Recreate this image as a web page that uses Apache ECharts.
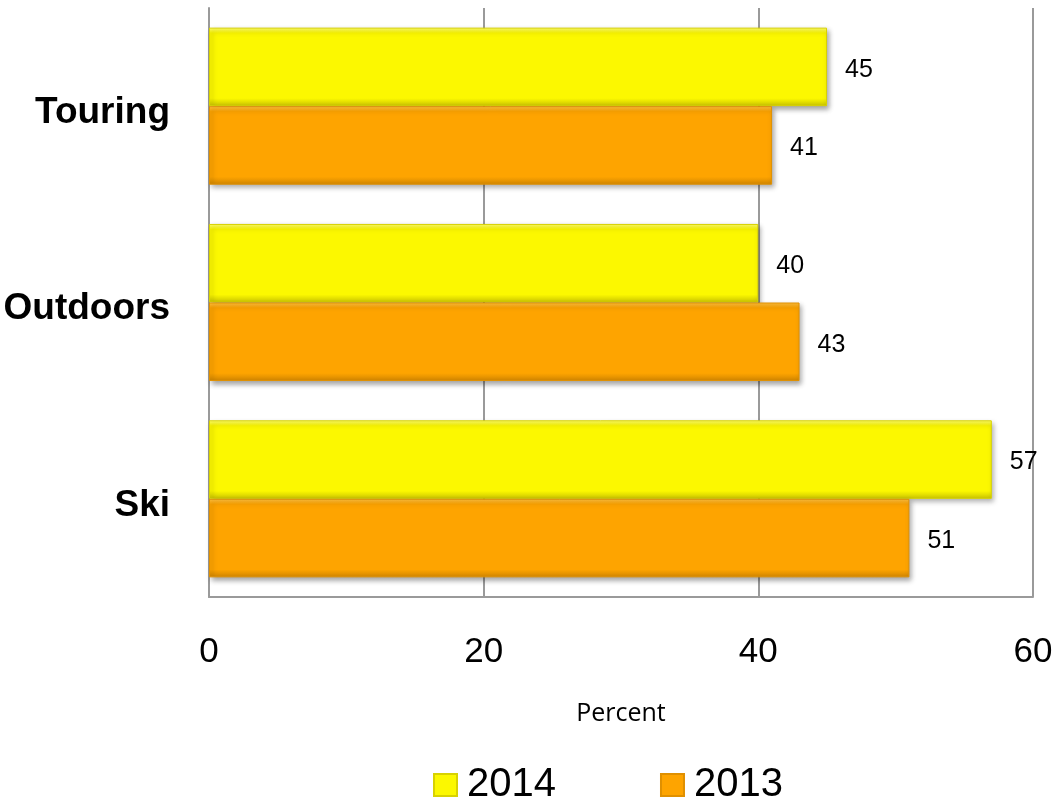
<!DOCTYPE html>
<html>
<head>
<meta charset="utf-8">
<style>
  html, body { margin: 0; padding: 0; background: #fff; }
  #chart { width: 1058px; height: 803px; }
</style>
<script src="https://cdn.jsdelivr.net/npm/echarts@6/dist/echarts.min.js"></script>
</head>
<body>
<div id="chart"></div>
<script>
// Segments shown top to bottom
const categories = ['Touring', 'Outdoors', 'Ski'];
const values2014 = [45, 40, 57];
const values2013 = [41, 43, 51];
const xTicks = [0, 20, 40, 60];

// Bevelled bar fill: light top edge, flat face, darker bottom edge
function bevel(light, face, dark) {
  return {
    type: 'linear', x: 0, y: 0, x2: 0, y2: 1,
    colorStops: [
      { offset: 0, color: light },
      { offset: 0.07, color: face },
      { offset: 0.9, color: face },
      { offset: 1, color: dark }
    ]
  };
}

const fill2014 = bevel('#FFFF70', '#FCF800', '#C9C300');
const fill2013 = bevel('#FFC040', '#FEA400', '#D08500');

const chart = echarts.init(document.getElementById('chart'));

function barSeries(name, data, fill, border) {
  return {
    name: name,
    type: 'bar',
    data: data,
    barGap: '0%',
    barCategoryGap: '20%',
    itemStyle: {
      color: fill,
      borderColor: border,
      borderWidth: 1,
      shadowColor: 'rgba(0,0,0,0.35)',
      shadowBlur: 5,
      shadowOffsetX: 2,
      shadowOffsetY: 3
    },
    label: {
      show: true,
      position: 'right',
      distance: 18,
      offset: [0, 3],
      color: '#000',
      fontFamily: 'Liberation Sans, Arial, sans-serif',
      fontSize: 25
    }
  };
}

chart.setOption({
  animation: false,
  backgroundColor: '#fff',
  grid: {
    left: 209, right: 25, top: 8, bottom: 206,
    containLabel: false,
    outerBoundsMode: 'none'
  },
  legend: {
    top: 765,
    left: 433,
    padding: 0,
    itemWidth: 23,
    itemHeight: 22,
    itemGap: 104,
    icon: 'rect',
    textStyle: {
      color: '#000',
      fontFamily: 'Liberation Sans, Arial, sans-serif',
      fontSize: 40,
      padding: [0, 0, 0, 5]
    },
    data: ['2014', '2013']
  },
  xAxis: {
    type: 'value',
    min: xTicks[0],
    max: xTicks[xTicks.length - 1],
    interval: xTicks[1] - xTicks[0],
    name: 'Percent',
    nameLocation: 'middle',
    nameGap: 104,
    nameTextStyle: {
      color: '#000',
      fontFamily: 'Open Sans, sans-serif',
      fontSize: 25
    },
    axisLine: { show: true, lineStyle: { color: '#9a9a9a', width: 2 } },
    axisTick: { show: false },
    axisLabel: {
      color: '#000',
      fontFamily: 'Liberation Sans, Arial, sans-serif',
      fontSize: 35,
      margin: 38
    },
    splitLine: { show: true, lineStyle: { color: '#9a9a9a', width: 2 } }
  },
  yAxis: {
    type: 'category',
    data: categories,
    inverse: true,
    axisLine: { show: true, lineStyle: { color: '#9a9a9a', width: 2 } },
    axisTick: { show: false },
    axisLabel: {
      margin: 39,
      formatter: '{cat|{value}}',
      rich: {
        cat: {
          color: '#000',
          fontFamily: 'Liberation Sans Narrow, Arial Narrow, Liberation Sans, sans-serif',
          fontWeight: 'bold',
          fontSize: 37,
          padding: [13, 0, 0, 0]
        }
      }
    },
    splitLine: { show: false }
  },
  series: [
    barSeries('2014', values2014, fill2014, '#D8D200'),
    barSeries('2013', values2013, fill2013, '#E09000')
  ]
});
</script>
</body>
</html>
